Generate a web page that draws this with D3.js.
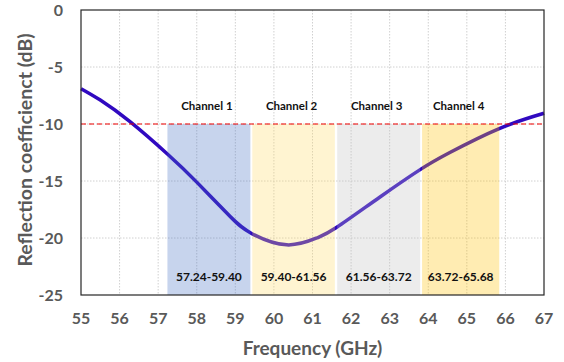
<!DOCTYPE html>
<html>
<head>
<meta charset="utf-8">
<script src="https://cdn.jsdelivr.net/npm/d3@7"></script>
<style>
  body { margin: 0; background: #fff; }
  svg { display: block; font-family: Lato, "Open Sans", sans-serif; }
</style>
</head>
<body>
<svg id="chart" width="564" height="362"></svg>
<script>
// measured curve (GHz, dB)
const freq = [55, 55.5, 56.27, 57.26, 58.0, 58.86, 59.42, 60.33, 61.11, 61.63, 62.75, 63.79, 64.56, 65.84, 67];
const refl = [-6.9, -7.9, -9.8, -12.7, -15.1, -18.1, -19.6, -20.6, -20.0, -19.06, -16.4, -14.0, -12.5, -10.4, -9.06];

// channel bands
const channels = ['Channel 1', 'Channel 2', 'Channel 3', 'Channel 4'];
const bandStart = [57.24, 59.44, 61.64, 63.84];
const bandEnd = [59.39, 61.58, 63.79, 65.84];
const bandLabels = ['57.24-59.40', '59.40-61.56', '61.56-63.72', '63.72-65.68'];
const bandColors = ['#4472C4', '#FFD966', '#BFBFBF', '#FFC000'];

const xTicks = d3.range(55, 68, 1);
const yTicks = [0, -5, -10, -15, -20, -25];
const threshold = -10;

const svg = d3.select('#chart');
const margin = { left: 81, top: 10, right: 20, bottom: 67 };
const W = 564, H = 362;

const x = d3.scaleLinear().domain([55, 67]).range([margin.left, W - margin.right]);
const y = d3.scaleLinear().domain([-25, 0]).range([H - margin.bottom, margin.top]);

const grey = '#595959';

// grid
svg.append('g')
  .selectAll('line.vg')
  .data(xTicks.slice(1, -1))
  .join('line')
  .attr('x1', d => x(d)).attr('x2', d => x(d))
  .attr('y1', y(0)).attr('y2', y(-25))
  .attr('stroke', '#d0d0d0').attr('stroke-dasharray', '1.5,1.5');

svg.append('g')
  .selectAll('line.hg')
  .data(yTicks.slice(1, -1))
  .join('line')
  .attr('x1', x(55)).attr('x2', x(67))
  .attr('y1', d => y(d)).attr('y2', d => y(d))
  .attr('stroke', '#d0d0d0').attr('stroke-dasharray', '1.5,1.5');

// curve
const pts = freq.map((f, i) => [f, refl[i]]);
const line = d3.line()
  .x(d => x(d[0]))
  .y(d => y(d[1]))
  .curve(d3.curveNatural);

svg.append('path')
  .datum(pts)
  .attr('d', line)
  .attr('fill', 'none')
  .attr('stroke', '#3009C0')
  .attr('stroke-width', 3.5);

// bands over the curve, translucent
svg.append('g')
  .selectAll('rect')
  .data(channels)
  .join('rect')
  .attr('x', (d, i) => x(bandStart[i]))
  .attr('width', (d, i) => x(bandEnd[i]) - x(bandStart[i]))
  .attr('y', y(threshold))
  .attr('height', y(-25) - y(threshold))
  .attr('fill', (d, i) => bandColors[i])
  .attr('fill-opacity', 0.3);

// -10 dB line
svg.append('line')
  .attr('x1', x(55)).attr('x2', x(67))
  .attr('y1', y(threshold)).attr('y2', y(threshold))
  .attr('stroke', '#F00000')
  .attr('stroke-width', 1.2)
  .attr('stroke-dasharray', '5,3');

// frame
svg.append('rect')
  .attr('x', x(55)).attr('y', y(0))
  .attr('width', x(67) - x(55)).attr('height', y(-25) - y(0))
  .attr('fill', 'none')
  .attr('stroke', '#262626')
  .attr('stroke-width', 1.2);

// band texts
svg.append('g')
  .selectAll('text')
  .data(channels)
  .join('text')
  .attr('x', (d, i) => (x(bandStart[i]) + x(bandEnd[i])) / 2 - 2)
  .attr('y', 110)
  .attr('text-anchor', 'middle')
  .attr('font-size', 11.5)
  .attr('font-weight', 700)
  .attr('fill', '#111')
  .text(d => d);

svg.append('g')
  .selectAll('text')
  .data(bandLabels)
  .join('text')
  .attr('x', (d, i) => (x(bandStart[i]) + x(bandEnd[i])) / 2)
  .attr('y', 281)
  .attr('text-anchor', 'middle')
  .attr('font-size', 12)
  .attr('font-weight', 700)
  .attr('fill', '#111')
  .text(d => d);

// tick labels
svg.append('g')
  .selectAll('text')
  .data(xTicks)
  .join('text')
  .attr('x', d => x(d))
  .attr('y', 324)
  .attr('text-anchor', 'middle')
  .attr('font-size', 16)
  .attr('font-weight', 700)
  .attr('fill', grey)
  .text(d => d);

svg.append('g')
  .selectAll('text')
  .data(yTicks)
  .join('text')
  .attr('x', 63)
  .attr('y', d => y(d) + 6)
  .attr('text-anchor', 'end')
  .attr('font-size', 16)
  .attr('font-weight', 700)
  .attr('fill', grey)
  .text(d => d);

// axis titles
svg.append('text')
  .attr('x', (x(55) + x(67)) / 2)
  .attr('y', 355)
  .attr('text-anchor', 'middle')
  .attr('font-size', 19)
  .attr('font-weight', 700)
  .attr('fill', grey)
  .text('Frequency (GHz)');

svg.append('text')
  .attr('transform', 'translate(32,' + 150 + ') rotate(-90)')
  .attr('text-anchor', 'middle')
  .attr('font-size', 19.5)
  .attr('font-weight', 700)
  .attr('fill', grey)
  .text('Reflection coefficienct (dB)');
</script>
</body>
</html>
